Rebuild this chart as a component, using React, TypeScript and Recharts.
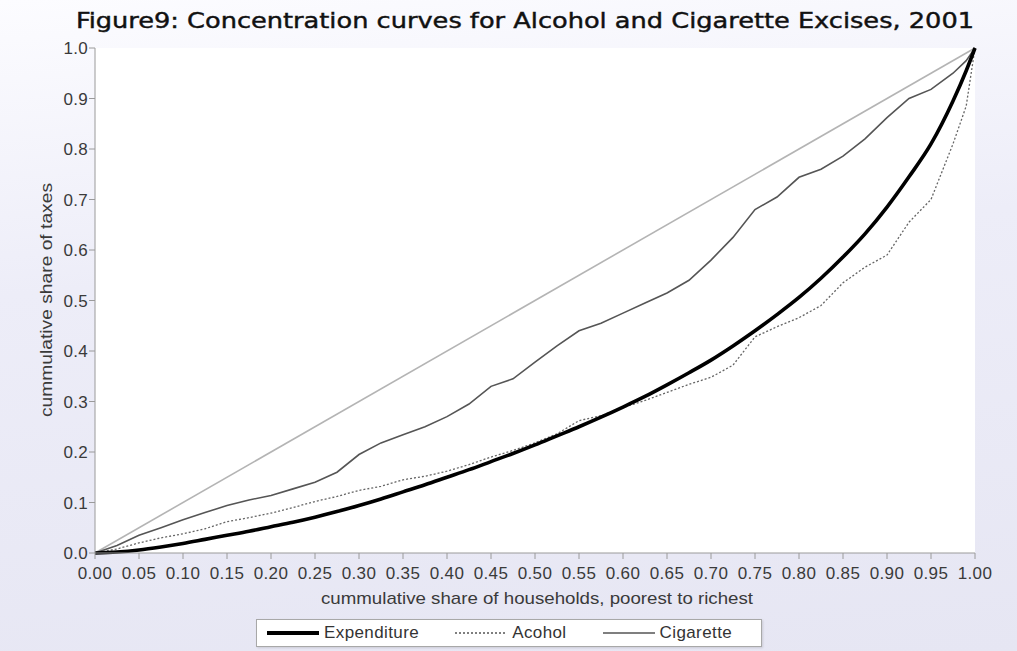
import { LineChart, Line, XAxis, YAxis, CartesianGrid, ReferenceLine } from "recharts";

// cumulative share of households (x) and cumulative shares of taxes (y)
const share = [
  0, 0.025, 0.05, 0.075, 0.1, 0.125, 0.15, 0.175, 0.2, 0.225, 0.25, 0.275, 0.3, 0.325, 0.35,
  0.375, 0.4, 0.425, 0.45, 0.475, 0.5, 0.525, 0.55, 0.575, 0.6, 0.625, 0.65, 0.675, 0.7,
  0.725, 0.75, 0.775, 0.8, 0.825, 0.85, 0.875, 0.9, 0.925, 0.95, 0.975, 0.99, 1,
];

const expenditure = [
  0, 0.002, 0.006, 0.012, 0.019, 0.027, 0.035, 0.043, 0.052, 0.061, 0.071, 0.082, 0.094, 0.107,
  0.121, 0.135, 0.15, 0.165, 0.181, 0.197, 0.214, 0.232, 0.25, 0.269, 0.289, 0.31, 0.333, 0.357,
  0.382, 0.41, 0.44, 0.472, 0.506, 0.544, 0.586, 0.632, 0.685, 0.745, 0.81, 0.895, 0.955, 1,
];

const alcohol = [
  0, 0.008, 0.02, 0.03, 0.038, 0.048, 0.062, 0.07, 0.079, 0.09, 0.102, 0.112, 0.124, 0.132,
  0.145, 0.152, 0.162, 0.175, 0.19, 0.203, 0.218, 0.236, 0.262, 0.272, 0.288, 0.302, 0.318,
  0.334, 0.348, 0.372, 0.428, 0.448, 0.466, 0.49, 0.535, 0.566, 0.59, 0.655, 0.7, 0.81, 0.885, 1,
];

const cigarette = [
  0, 0.015, 0.035, 0.05, 0.066, 0.08, 0.094, 0.105, 0.114, 0.127, 0.14, 0.16, 0.195, 0.218,
  0.234, 0.25, 0.27, 0.295, 0.33, 0.345, 0.378, 0.41, 0.44, 0.455, 0.475, 0.495, 0.515, 0.54,
  0.58, 0.625, 0.68, 0.705, 0.744, 0.76, 0.786, 0.82, 0.862, 0.9, 0.918, 0.95, 0.975, 1,
];

const xTicks = [
  0, 0.05, 0.1, 0.15, 0.2, 0.25, 0.3, 0.35, 0.4, 0.45, 0.5, 0.55, 0.6, 0.65, 0.7, 0.75, 0.8,
  0.85, 0.9, 0.95, 1,
];
const yTicks = [0, 0.1, 0.2, 0.3, 0.4, 0.5, 0.6, 0.7, 0.8, 0.9, 1];

const data = share.map((s, i) => ({
  share: s,
  expenditure: expenditure[i],
  alcohol: alcohol[i],
  cigarette: cigarette[i],
}));

const FONT = "'Liberation Sans', Arial, sans-serif";
const AXIS = "#9a9a9a";
const tickStyle = { fontSize: 17, fill: "#3a3a3a", fontFamily: FONT, letterSpacing: 0.3 };

const legendItems = [
  { name: "Expenditure", color: "#000", width: 4, dash: undefined as string | undefined },
  { name: "Acohol", color: "#555", width: 1.3, dash: "2 2" },
  { name: "Cigarette", color: "#555", width: 1.6, dash: undefined },
];

function Legenda() {
  return (
    <div
      style={{
        position: "absolute",
        left: 256,
        top: 619,
        width: 506,
        height: 28,
        boxSizing: "border-box",
        border: "1px solid #a8a8a8",
        boxShadow: "1px 1px 2px rgba(0,0,0,0.12)",
        background: "#fff",
        display: "flex",
        alignItems: "center",
        paddingLeft: 10,
        fontFamily: FONT,
        fontSize: 17,
        color: "#333",
        letterSpacing: 0.4,
      }}
    >
      {legendItems.map((it) => (
        <div key={it.name} style={{ display: "flex", alignItems: "center", marginRight: 36 }}>
          <svg width={52} height={10} style={{ marginRight: 5 }}>
            <line x1={0} y1={5} x2={52} y2={5} stroke={it.color} strokeWidth={it.width} strokeDasharray={it.dash} />
          </svg>
          <span>{it.name}</span>
        </div>
      ))}
    </div>
  );
}

export default function App() {
  return (
    <div
      style={{
        position: "absolute",
        left: 0,
        top: 0,
        width: 1017,
        height: 651,
        overflow: "hidden",
        background: "linear-gradient(175deg, #fcfcff 0%, #ededf8 40%, #e6e6f3 100%)",
      }}
    >
      <LineChart
        width={1017}
        height={651}
        data={data}
        margin={{ top: 48, right: 42, left: 35, bottom: 38 }}
      >
        <CartesianGrid horizontal={false} vertical={false} fill="#fff" fillOpacity={1} />
        <XAxis
          dataKey="share"
          type="number"
          domain={[0, 1]}
          ticks={xTicks}
          tickFormatter={(v: number) => v.toFixed(2)}
          tick={tickStyle}
          height={60}
          tickSize={6}
          tickMargin={8}
          stroke={AXIS}
          interval={0}
        />
        <XAxis xAxisId="top" orientation="top" type="number" domain={[0, 1]} height={0} tick={false} tickLine={false} stroke={AXIS} />
        <YAxis
          type="number"
          domain={[0, 1]}
          ticks={yTicks}
          tickFormatter={(v: number) => v.toFixed(1)}
          tick={tickStyle}
          width={60}
          tickSize={6}
          tickMargin={1}
          stroke={AXIS}
          interval={0}
        />
        <YAxis yAxisId="right" orientation="right" type="number" domain={[0, 1]} width={0} tick={false} tickLine={false} stroke={AXIS} />
        <ReferenceLine
          segment={[
            { x: 0, y: 0 },
            { x: 1, y: 1 },
          ]}
          stroke="#b4b4b4"
          strokeWidth={1.6}
        />
        <Line dataKey="cigarette" type="linear" stroke="#555" strokeWidth={1.6} dot={false} isAnimationActive={false} />
        <Line dataKey="alcohol" type="linear" stroke="#666" strokeWidth={1.3} strokeDasharray="2 2" dot={false} isAnimationActive={false} />
        <Line dataKey="expenditure" type="monotone" stroke="#000" strokeWidth={3.6} dot={false} isAnimationActive={false} />
      </LineChart>

      <svg width={1017} height={651} style={{ position: "absolute", left: 0, top: 0, pointerEvents: "none" }}>
        <text
          x={525}
          y={28}
          textAnchor="middle"
          fontFamily="'DejaVu Sans Condensed', 'DejaVu Sans', Verdana, sans-serif"
          fontSize={22}
          fill="#111"
          stroke="#111"
          strokeWidth={0.4}
          textLength={898}
          lengthAdjust="spacingAndGlyphs"
        >
          Figure9: Concentration curves for Alcohol and Cigarette Excises, 2001
        </text>
        <text
          x={0}
          y={0}
          transform="translate(52,300) rotate(-90)"
          textAnchor="middle"
          fontFamily={FONT}
          fontSize={17}
          fill="#3a3a3a"
          textLength={234}
          lengthAdjust="spacingAndGlyphs"
        >
          cummulative share of taxes
        </text>
        <text
          x={537}
          y={604}
          textAnchor="middle"
          fontFamily={FONT}
          fontSize={17}
          fill="#3a3a3a"
          textLength={432}
          lengthAdjust="spacingAndGlyphs"
        >
          cummulative share of households, poorest to richest
        </text>
      </svg>
      <Legenda />
    </div>
  );
}
